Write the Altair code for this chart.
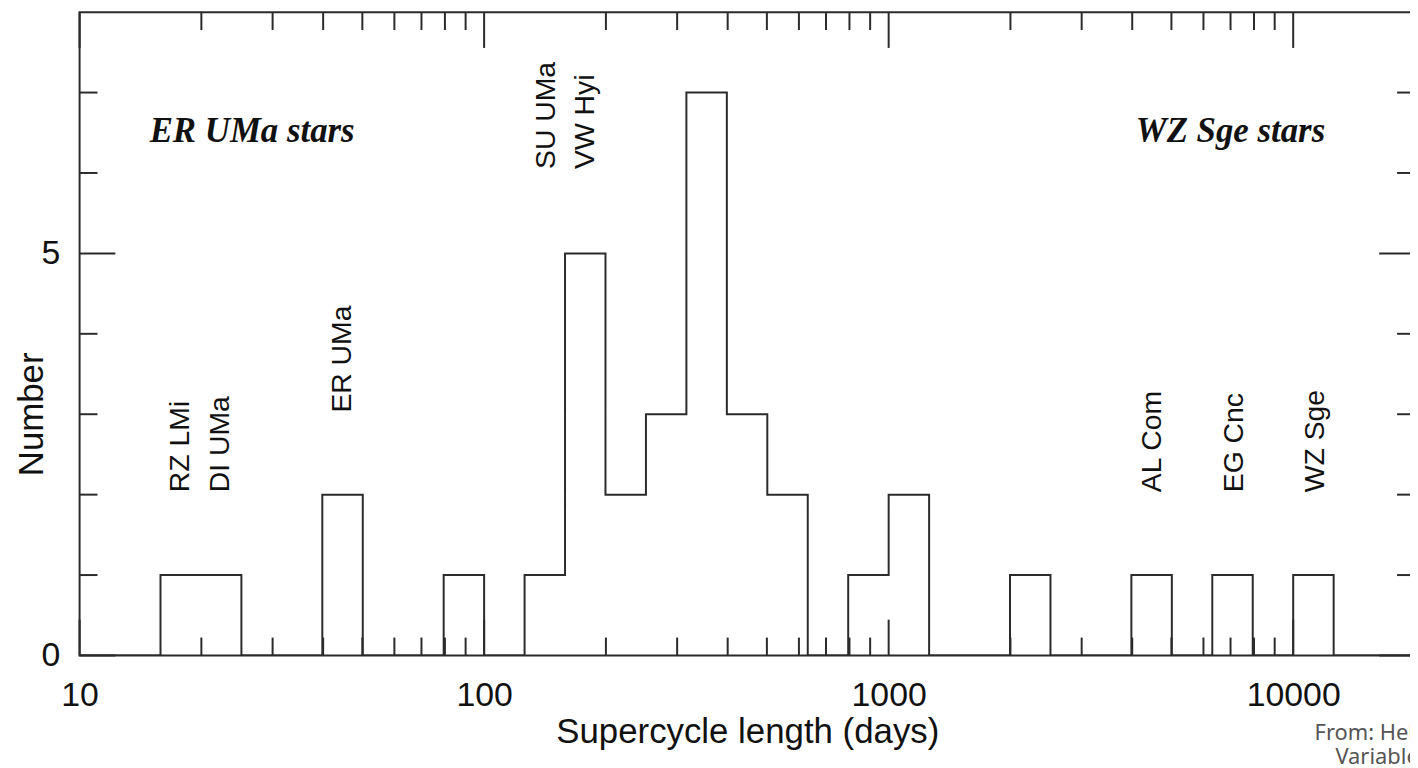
import altair as alt
import pandas as pd
import numpy as np

# Histogram: bins of 0.1 dex in log10(supercycle length / days)
bin_lo_log = [1.2, 1.3, 1.6, 1.9, 2.1, 2.2, 2.3, 2.4, 2.5, 2.6, 2.7, 2.9, 3.0, 3.3, 3.6, 3.8, 4.0]
bin_counts = [1, 1, 2, 1, 1, 5, 2, 3, 7, 3, 2, 1, 2, 1, 1, 1, 1]

# Axis ticks
x_major = [10, 100, 1000, 10000]
x_minor = [20, 30, 40, 50, 60, 70, 80, 90,
           200, 300, 400, 500, 600, 700, 800, 900,
           2000, 3000, 4000, 5000, 6000, 7000, 8000, 9000]
y_major = [0, 5]
y_minor = [1, 2, 3, 4, 6, 7]

# Star-name annotations (rotated)
star_names = ["RZ LMi", "DI UMa", "ER UMa", "SU UMa", "VW Hyi", "AL Com", "EG Cnc", "WZ Sge"]
star_x = [17.7, 22.3, 44.6, 142, 178, 4490, 7150, 11330]
star_y = [2.03, 2.03, 3.02, 6.05, 6.05, 2.03, 2.03, 2.03]

# Group annotations
group_names = ["ER UMa stars", "WZ Sge stars"]
group_x = [14.9, 4080]
group_y = [6.39, 6.39]

# Source credit (cut off at the right edge, as in the reference)
credit_lines = ["From: Hellier, Cataclysmic", "Variable Stars"]

# Build step-outline table on a 0.1-dex grid
grid = np.round(np.arange(1.0, 4.31, 0.1), 1)
lookup = dict(zip(bin_lo_log, bin_counts))
step_df = pd.DataFrame({
    "x": 10 ** grid,
    "n": [lookup.get(float(g), 0) if g < 4.3 else 0 for g in grid],
})

W, H = 1343, 647
LINE = "#2b2b2b"
xs = alt.Scale(type="log", domain=[10, 20000], nice=False)
ys = alt.Scale(domain=[0, 8], nice=False)

hist = alt.Chart(step_df).mark_line(interpolate="step-after", color=LINE, strokeWidth=2, clip=True).encode(
    x=alt.X("x:Q", scale=xs, title="Supercycle length (days)",
            axis=alt.Axis(values=x_major, format="d", ticks=False, domain=False, grid=False,
                          labelFontSize=34, labelPadding=23, labelColor="#111",
                          labelFlush=False, labelOverlap=False,
                          titleFontSize=35, titleFontWeight="normal", titleColor="#111",
                          titleBaseline="alphabetic", titleY=88)),
    y=alt.Y("n:Q", scale=ys, title="Number",
            axis=alt.Axis(values=y_major, format="d", ticks=False, domain=False, grid=False,
                          labelFontSize=34, labelPadding=20, labelColor="#111",
                          titleFontSize=35, titleFontWeight="normal", titleColor="#111",
                          titleAngle=270, titleBaseline="alphabetic", titleX=-37, titleY=404)),
)

xmaj_df = pd.DataFrame({"v": x_major})
xmin_df = pd.DataFrame({"v": x_minor})
ymaj_df = pd.DataFrame({"v": y_major})
ymin_df = pd.DataFrame({"v": y_minor})

def xticks(df, length):
    base = alt.Chart(df).mark_rule(color=LINE, strokeWidth=2)
    bottom = base.encode(x=alt.X("v:Q", scale=xs), y=alt.value(H), y2=alt.value(H - length))
    top = base.encode(x=alt.X("v:Q", scale=xs), y=alt.value(0), y2=alt.value(length))
    return [bottom, top]

def yticks(df, length):
    base = alt.Chart(df).mark_rule(color=LINE, strokeWidth=2)
    left = base.encode(y=alt.Y("v:Q", scale=ys), x=alt.value(0), x2=alt.value(length))
    right = base.encode(y=alt.Y("v:Q", scale=ys), x=alt.value(W), x2=alt.value(W - length))
    return [left, right]

star_df = pd.DataFrame({"name": star_names, "x": star_x, "y": star_y})
stars = alt.Chart(star_df).mark_text(angle=270, align="left", baseline="middle",
                                     fontSize=28.5, color="#111", font="Liberation Sans").encode(
    x=alt.X("x:Q", scale=xs), y=alt.Y("y:Q", scale=ys), text="name:N")

group_df = pd.DataFrame({"name": group_names, "x": group_x, "y": group_y})
groups = alt.Chart(group_df).mark_text(align="left", baseline="alphabetic", fontSize=35,
                                       fontStyle="italic", fontWeight="bold", color="#111",
                                       font="Liberation Serif").encode(
    x=alt.X("x:Q", scale=xs), y=alt.Y("y:Q", scale=ys), text="name:N")

credit1 = alt.Chart(pd.DataFrame({"t": [credit_lines[0]]})).mark_text(
    align="left", baseline="alphabetic", fontSize=22, color="#555", font="Noto Sans").encode(
    x=alt.value(1242), y=alt.value(732), text="t:N")
credit2 = alt.Chart(pd.DataFrame({"t": [credit_lines[1]]})).mark_text(
    align="left", baseline="alphabetic", fontSize=22, color="#555", font="Noto Sans").encode(
    x=alt.value(1263), y=alt.value(756), text="t:N")

chart = alt.layer(
    hist,
    *xticks(xmin_df, 18), *xticks(xmaj_df, 36),
    *yticks(ymin_df, 18), *yticks(ymaj_df, 36),
    stars, groups, credit1, credit2,
).properties(
    width=W, height=H,
    autosize=alt.AutoSizeParams(type="none"),
    padding={"left": 72, "top": 2, "right": -5, "bottom": 110},
).configure(
    font="Liberation Sans", background="white"
).configure_view(
    stroke=LINE, strokeWidth=2
)

chart.save("out.html", embed_options={"renderer": "svg", "actions": False})
